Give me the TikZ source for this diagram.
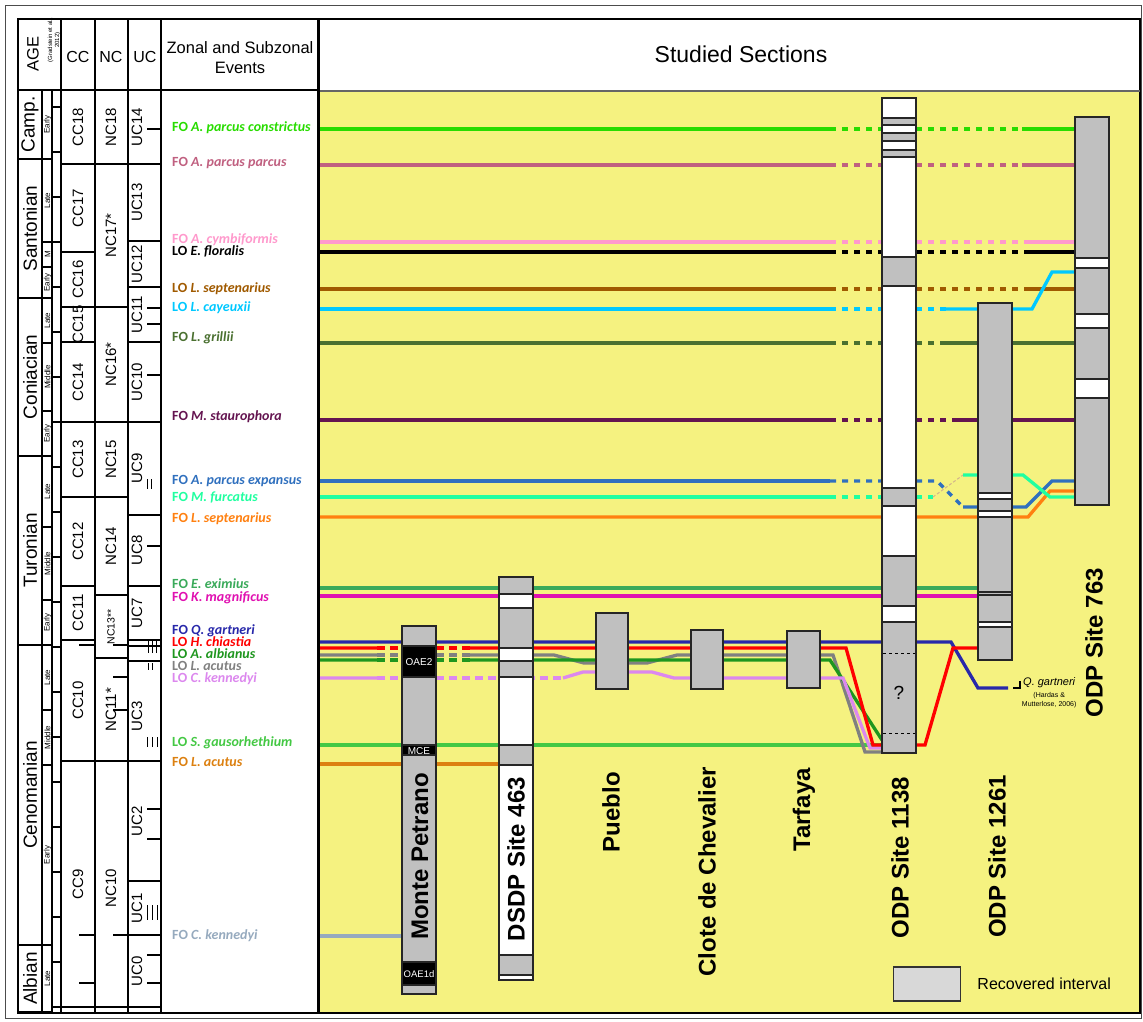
\documentclass[tikz,border=0pt]{standalone}
\usepackage{fontspec}
\setmainfont{Liberation Sans}
\newfontfamily\evfont{Carlito}
\usetikzlibrary{positioning}

\definecolor{panel}{RGB}{245,242,128}
\definecolor{coregray}{RGB}{192,192,192}
\definecolor{leggray}{RGB}{216,216,216}
\definecolor{cConstr}{RGB}{40,220,0}
\definecolor{cParcus}{RGB}{192,96,128}
\definecolor{cCymb}{RGB}{255,153,204}
\definecolor{cLOsept}{RGB}{160,90,0}
\definecolor{cCay}{RGB}{0,200,255}
\definecolor{cGrill}{RGB}{74,112,48}
\definecolor{cStaur}{RGB}{100,20,80}
\definecolor{cExpan}{RGB}{48,112,190}
\definecolor{cFurc}{RGB}{32,255,160}
\definecolor{cFOsept}{RGB}{255,128,16}
\definecolor{cExim}{RGB}{58,170,90}
\definecolor{cMagn}{RGB}{224,16,176}
\definecolor{cGart}{RGB}{40,40,170}
\definecolor{cChia}{RGB}{255,0,0}
\definecolor{cAlb}{RGB}{30,150,30}
\definecolor{cAcut}{RGB}{128,128,128}
\definecolor{cKenLO}{RGB}{220,136,238}
\definecolor{cGaus}{RGB}{68,200,68}
\definecolor{cFOacut}{RGB}{220,128,16}
\definecolor{cKenFO}{RGB}{150,170,190}
\definecolor{cTan}{RGB}{210,180,140}

\tikzstyle{frame} = [draw=black, line width=1.2pt]
\tikzstyle{zone} = [rotate=90, font=\fontsize{15}{15}\selectfont, inner sep=0pt]
\tikzstyle{stage} = [rotate=90, font=\fontsize{19}{19}\selectfont, inner sep=0pt]
\tikzstyle{substage} = [rotate=90, font=\fontsize{8}{8}\selectfont, inner sep=0pt]
\tikzstyle{event} = [anchor=west, font=\evfont\bfseries\fontsize{14}{14}\selectfont, inner sep=0pt, text height=8.5pt, text depth=1pt]
\tikzstyle{corr} = [line width=3.3pt]
\tikzstyle{corrdash} = [line width=3.3pt, dash pattern=on 6pt off 6pt]
\tikzstyle{gapdash} = [line width=3.3pt, dash pattern=on 8pt off 5pt]
\tikzstyle{core} = [draw=black!85, line width=1.6pt]
\tikzstyle{site} = [rotate=90, anchor=east, font=\bfseries\fontsize{24}{24}\selectfont, inner sep=0pt]
\tikzstyle{event label} = [font=\color{white}\fontsize{10}{10}\selectfont, inner sep=0pt]

\begin{document}
\begin{tikzpicture}[x=1pt,y=-1pt]
\useasboundingbox (0,0) rectangle (1143,1021);
\draw[black!70, line width=0.8pt] (5,5) rectangle (1141,1018);

% yellow panel of the sections
\fill[panel] (320,91) rectangle (1140,1013);

% correlation lines, upper events broken at ODP 1138
\foreach \yy/\cc/\xs in {129/cConstr/1022, 165/cParcus/1022, 242/cCymb/1027, 252/black/1027, 289/cLOsept/1027}
{
  \draw[corr,\cc] (320,\yy) -- (830,\yy);
  \draw[corrdash,\cc] (830,\yy) -- (882,\yy) (916,\yy) -- (\xs,\yy);
  \draw[corr,\cc] (\xs,\yy) -- (1075,\yy);
}
\foreach \yy/\cc/\xs in {309/cCay/946, 343/cGrill/946, 420/cStaur/953}
{
  \draw[corr,\cc] (320,\yy) -- (830,\yy);
  \draw[corrdash,\cc] (830,\yy) -- (882,\yy) (916,\yy) -- (\xs,\yy);
}
\draw[corr,cCay] (946,309) -- (1032,309) -- (1052,272) -- (1075,272);
\draw[corr,cGrill] (946,343) -- (1075,343);
\draw[corr,cStaur] (953,420) -- (1075,420);
% Turonian events
\draw[corr,cExpan] (320,481) -- (830,481);
\draw[corrdash,cExpan] (830,481) -- (882,481) (916,481) -- (937,481) -- (963,507);
\draw[corr,cExpan] (963,507) -- (1026,507) -- (1052,481) -- (1075,481);
\draw[corr,cFOsept] (320,517) -- (1028,517) -- (1050,491) -- (1075,491);
\draw[corr,cFurc] (320,497) -- (830,497);
\draw[corrdash,cFurc] (830,497) -- (882,497) (916,497) -- (933,497);
\draw[cTan, line width=1pt, dash pattern=on 3pt off 2pt] (933,497) -- (963,475);
\draw[corr,cFurc] (963,475) -- (1023,475) -- (1050,497) -- (1075,497);
\draw[corr,cExim] (320,588) -- (978,588);
\draw[corr,cMagn] (320,596) -- (978,596);
% Cenomanian/Turonian boundary events
\draw[corr,cGaus] (320,745) -- (882,745);
\draw[corr,cGart] (320,642) -- (951,642) -- (978,688) -- (1008,688);
\draw[corr,cAcut] (320,655) -- (377,655) (470,655) -- (554,655) -- (584,663) -- (647,663) -- (677,655) -- (833,655) -- (865,752) -- (882,752);
\draw[gapdash,cAcut] (377,655) -- (402,655) (436,655) -- (470,655);
\draw[corr,cAlb] (320,660) -- (377,660) (470,660) -- (830,660) -- (882,740);
\draw[gapdash,cAlb] (377,660) -- (402,660) (436,660) -- (470,660);
\draw[corr,cKenLO] (320,678) -- (377,678) (563,678) -- (583,672) -- (652,672) -- (674,678) -- (843,678) -- (870,748) -- (882,748);
\draw[gapdash,cKenLO] (377,678) -- (402,678) (436,678) -- (563,678);
\draw[corr,cChia] (320,648) -- (377,648) (470,648) -- (846,648) -- (873,745) -- (925,745) -- (953,648) -- (978,648);
\draw[gapdash,cChia] (377,648) -- (402,648) (436,648) -- (470,648);
\draw[corr,cFOacut] (320,764) -- (498,764);
\draw[corr,cKenFO] (320,936) -- (402,936);

% cores
\foreach \ya/\yb/\ff in {626/646/coregray, 646/677/black, 677/745/coregray, 745/755/black, 755/962/coregray, 962/985/black, 985/994/coregray}
  \draw[core, fill=\ff] (402,\ya) rectangle (436,\yb);
\node[event label] (oae2) at (419,662) {OAE2};
\node[event label] (mce) at (419,751) {MCE};
\node[event label, font=\color{white}\fontsize{9.5}{10}\selectfont] (oae1d) at (419,974) {OAE1d};
\foreach \ya/\yb/\ff in {577/594/coregray, 594/608/white, 608/648/coregray, 648/661/white, 661/677/coregray, 677/745/white, 745/765/coregray, 765/955/white, 955/975/coregray, 975/980/white}
  \draw[core, fill=\ff] (499,\ya) rectangle (533,\yb);
\draw[core, fill=coregray] (596,613) rectangle (628,689);
\draw[core, fill=coregray] (691,630) rectangle (723,689);
\draw[core, fill=coregray] (787,631) rectangle (820,688);
\foreach \ya/\yb/\ff in {98/118/white, 118/125/coregray, 125/133/white, 133/141/coregray, 141/150/white, 150/157/coregray, 157/257/white, 257/286/coregray, 286/488/white, 488/506/coregray, 506/556/white, 556/606/coregray, 606/622/white, 622/753/coregray}
  \draw[core, fill=\ff] (882,\ya) rectangle (916,\yb);
\draw[dashed, line width=1pt] (883,653) -- (915,653) (883,733) -- (915,733);
\node[font=\fontsize{19}{19}\selectfont] (qmark) at (899,693) {?};
\foreach \ya/\yb/\ff in {303/493/coregray, 493/499/white, 499/511/coregray, 511/517/white, 517/592/coregray, 592/595/coregray, 595/622/coregray, 622/627/white, 627/660/coregray}
  \draw[core, fill=\ff] (978,\ya) rectangle (1012,\yb);
\foreach \ya/\yb/\ff in {117/258/coregray, 258/268/white, 268/314/coregray, 314/328/white, 328/379/coregray, 379/398/white, 398/505/coregray}
  \draw[core, fill=\ff] (1075,\ya) rectangle (1109,\yb);

% site names
\node[site] (mp) at (420,773) {Monte Petrano};
\node[site] (dsdp) at (516,777) {DSDP Site 463};
\node[site] (pueblo) at (611,772) {Pueblo};
\node[site] (clote) at (707,767) {Clote de Chevalier};
\node[site] (tarfaya) at (804,768) {Tarfaya};
\node[site] (odp1138) at (900,777) {ODP Site 1138};
\node[site] (odp1261) at (997,775) {ODP Site 1261};
\node[site] (odp763) at (1094,568) {ODP Site 763};

% Q. gartneri note
\draw[line width=1.2pt] (1013,688) -- (1020,688) -- (1020,681);
\node[anchor=west, font=\itshape\fontsize{11}{11}\selectfont, inner sep=0pt] (qg) at (1023,683) {Q. gartneri};
\node[below=4pt of qg, align=center, font=\fontsize{7}{9}\selectfont, inner sep=0pt] (qgref) {(Hardas \&\\Mutterlose, 2006)};

% legend
\node[draw=black!80, line width=1.5pt, fill=leggray, minimum width=67pt, minimum height=34pt, inner sep=0pt] (legbox) at (927,984) {};
\node[right=16pt of legbox, font=\fontsize{16}{16}\selectfont, inner sep=0pt] (legtext) {Recovered interval};

% table frame
\draw[frame] (18,19) rectangle (1140,1013);
\draw[frame] (18,90) -- (318,90);
\draw[black!60, line width=1.2pt] (320,91) -- (1140,91);
\foreach \xx in {61,95,128,161} \draw[frame] (\xx,19) -- (\xx,1012);
\foreach \xx in {42,52} \draw[frame] (\xx,90) -- (\xx,1012);
\draw[line width=3pt] (318.5,19) -- (318.5,1013);
\draw[frame] (52,1007) -- (161,1007);

% headers
\node[rotate=90, font=\fontsize{16.5}{16.5}\selectfont, inner sep=0pt] (age) at (33,54) {AGE};
\node[rotate=90, align=center, font=\fontsize{6}{7}\selectfont, inner sep=0pt] (gts) at (54,40) {(Gradstein et al.,\\2012)};
\node[font=\fontsize{16}{16}\selectfont] (hcc) at (78,57) {CC};
\node[font=\fontsize{16}{16}\selectfont] (hnc) at (111,57) {NC};
\node[font=\fontsize{16}{16}\selectfont] (huc) at (145,57) {UC};
\node[align=center, font=\fontsize{16.5}{20}\selectfont] (hev) at (240,58) {Zonal and Subzonal\\Events};
\node[font=\fontsize{23}{23}\selectfont] (hsec) at (741,54) {Studied Sections};

% stages and substages
\foreach \ya/\yb/\lab in {90/159/Camp., 159/298/Santonian, 298/456/Coniacian, 456/645/Turonian, 645/945/Cenomanian, 945/1012/Albian}
{
  \draw[frame] (18,\yb) -- (52,\yb);
  \node[stage] at (30,{(\ya+\yb)/2}) {\lab};
}
\foreach \ya/\yb/\lab in {90/159/Early, 159/242/Late, 242/267/M, 267/298/Early, 298/343/Late, 343/411/Middle, 411/456/Early, 456/527/Late, 527/600/Middle, 600/645/Early, 645/710/Late, 710/765/Middle, 765/945/Early, 945/1012/Late}
{
  \draw[frame] (42,\yb) -- (52,\yb);
  \node[substage] at (47.5,{(\ya+\yb)/2}) {\lab};
}
\foreach \k in {0,...,20} \draw[frame] (52,{107+45*\k}) -- (61,{107+45*\k});

% CC zones
\foreach \ya/\yb/\lab in {90/164/CC18, 164/252/CC17, 252/307/CC16, 307/342/CC15, 342/422/CC14, 422/497/CC13, 497/586/CC12, 586/640/CC11, 640/761/CC10}
{
  \draw[frame] (61,\yb) -- (95,\yb);
  \node[zone] at (78,{(\ya+\yb)/2}) {\lab};
}
\node[zone] (cc9) at (78,884) {CC9};
\foreach \yy in {645,935,983} \draw[frame] (79,\yy) -- (95,\yy);

% NC zones
\foreach \ya/\yb/\lab in {90/164/NC18, 164/307/NC17*, 307/422/NC16*, 422/497/NC15, 497/595/NC14, 658/761/NC11*}
{
  \draw[frame] (95,\yb) -- (128,\yb);
  \node[zone] at (111,{(\ya+\yb)/2}) {\lab};
}
\draw[frame] (95,658) -- (128,658);
\node[zone, font=\fontsize{10.5}{10.5}\selectfont] (nc13) at (111,627) {NC13**};
\node[zone] (nc10) at (111,888) {NC10};
\foreach \yy in {645,677,710,935} \draw[frame] (113,\yy) -- (128,\yy);

% UC zones
\foreach \ya/\yb/\lab in {90/164/UC14, 164/241/UC13, 241/287/UC12, 287/342/UC11, 342/422/UC10, 422/515/UC9, 515/586/UC8, 586/640/UC7, 672/761/UC3, 761/881/UC2, 881/935/UC1, 935/1007/UC0}
{
  \draw[frame] (128,\yb) -- (161,\yb);
  \node[zone] at (137,{(\ya+\yb)/2}) {\lab};
}
\foreach \yy in {646,661} \draw[frame] (128,\yy) -- (161,\yy);
\foreach \yy in {129,308,324,375,546,809,839,955,983} \draw[frame] (147,\yy) -- (161,\yy);
\foreach \xx/\ya/\yb in {147/479/489, 151/479/489, 148/641/653, 152/641/653, 156/641/653, 160/641/653, 148/663/670, 152/663/670, 147/737/747, 152/737/747, 157/737/747, 147/905/920, 152/905/920, 157/905/920}
  \draw[line width=1pt] (\xx,\ya) -- (\xx,\yb);

% zonal and subzonal events
\foreach \yy/\cc/\ot/\spc [count=\i] in {128/cConstr/FO/A. parcus constrictus, 163/cParcus/FO/A. parcus parcus, 240/cCymb/FO/A. cymbiformis, 252/black/LO/E. floralis, 289/cLOsept/LO/L. septenarius, 308/cCay/LO/L. cayeuxii, 338/cGrill/FO/L. grillii, 417/cStaur/FO/M. staurophora, 481/cExpan/FO/A. parcus expansus, 498/cFurc/FO/M. furcatus, 519/cFOsept/FO/L. septenarius, 585/cExim/FO/E. eximius, 598/cMagn/FO/K. magnificus, 631/cGart/FO/Q. gartneri, 643/cChia/LO/H. chiastia, 655/cAlb/LO/A. albianus, 667/cAcut/LO/L. acutus, 679/cKenLO/LO/C. kennedyi, 743/cGaus/LO/S. gausorhethium, 763/cFOacut/FO/L. acutus, 936/cKenFO/FO/C. kennedyi}
  \node[event, text=\cc] (ev\i) at (172,\yy) {\ot{} \textit{\spc}};
\end{tikzpicture}
\end{document}
